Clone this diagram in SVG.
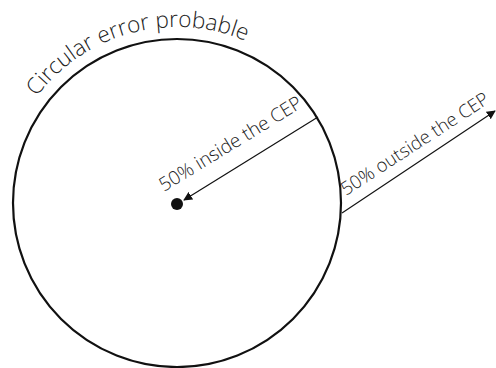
<svg xmlns="http://www.w3.org/2000/svg" width="496" height="368" viewBox="0 0 496 368">
<style>
.t{font-family:"Open Sans","Liberation Sans",sans-serif;font-weight:300;fill:#222;}
.ln{stroke:#111;stroke-width:1.2;fill:none;}
</style>
<defs>
<marker id="ah" viewBox="0 0 10 10" refX="9" refY="5" markerWidth="9" markerHeight="9" markerUnits="userSpaceOnUse" orient="auto">
<path d="M0,0 L10,5 L0,10 z" fill="#111"/>
</marker>
<path id="arc" d="M 1 203 A 176 176 0 0 1 353 203"/>
</defs>
<rect width="496" height="368" fill="#fff"/>
<g id="cep">
<circle cx="177" cy="203" r="164" fill="none" stroke="#111" stroke-width="2.2"/>
</g>
<g id="center">
<circle cx="177" cy="204" r="6" fill="#111"/>
</g>
<g id="title">
<text class="t" font-size="22.5"><textPath href="#arc" startOffset="114">Circular error probable</textPath></text>
</g>
<g id="connectors">
<line class="ln" x1="318" y1="117" x2="184" y2="200" marker-end="url(#ah)"/>
<line class="ln" x1="342" y1="213" x2="495" y2="111" marker-end="url(#ah)"/>
</g>
<g id="labels">
<text class="t" font-size="19" transform="translate(164,192) rotate(-31.5)">50% inside the CEP</text>
<text class="t" font-size="18.5" transform="translate(346,196) rotate(-33)">50% outside the CEP</text>
</g>
</svg>
